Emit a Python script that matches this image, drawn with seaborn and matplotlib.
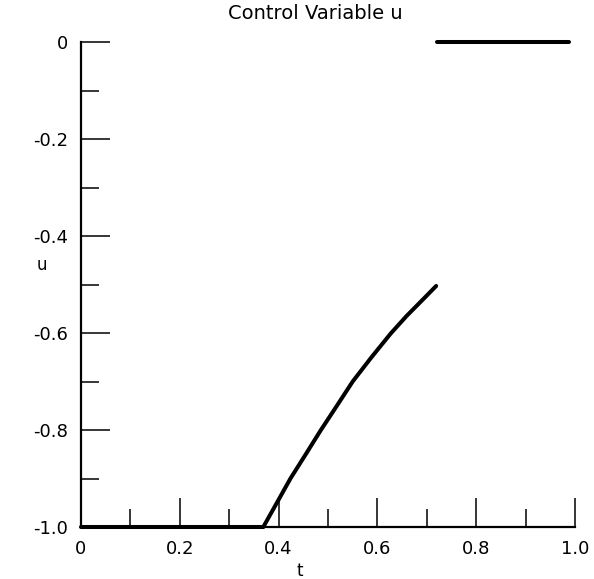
import matplotlib
matplotlib.use("Agg")
import matplotlib.pyplot as plt
import seaborn as sns
import numpy as np
import pandas as pd

# data
t_low = [0.0, 0.369]
u_low = [-1.0, -1.0]
t_arc = [0.369, 0.396, 0.424, 0.455, 0.485, 0.518, 0.550, 0.588, 0.627, 0.659, 0.693, 0.719]
u_arc = [-1.0, -0.951, -0.900, -0.850, -0.801, -0.750, -0.700, -0.650, -0.601, -0.565, -0.530, -0.503]
t_top = [0.721, 0.988]
u_top = [0.0, 0.0]

x_major = [0.0, 0.2, 0.4, 0.6, 0.8, 1.0]
x_major_labels = ["0", "0.2", "0.4", "0.6", "0.8", "1.0"]
x_minor = [0.1, 0.3, 0.5, 0.7, 0.9]
y_major = [0.0, -0.2, -0.4, -0.6, -0.8, -1.0]
y_major_labels = ["0", "-0.2", "-0.4", "-0.6", "-0.8", "-1.0"]
y_minor = [-0.1, -0.3, -0.5, -0.7, -0.9]

sns.set_style("white")
plt.rcParams["font.family"] = ["DejaVu Sans"]
plt.rcParams["text.color"] = "black"
plt.rcParams["axes.labelcolor"] = "black"
plt.rcParams["xtick.color"] = "black"
plt.rcParams["ytick.color"] = "black"

fig = plt.figure(figsize=(5.94, 5.79), dpi=100)
ax = fig.add_axes([81/594, 1 - 527/579, 494/594, 485/579])

for tt, uu in [(t_low, u_low), (t_arc, u_arc), (t_top, u_top)]:
    df = pd.DataFrame({"t": tt, "u": uu})
    sns.lineplot(data=df, x="t", y="u", sort=False, estimator=None, ax=ax,
                 color="black", linewidth=2.9, clip_on=False,
                 solid_joinstyle="round", solid_capstyle="round")

ax.set_xlim(0, 1.0)
ax.set_ylim(-1.0, 0.0)
ax.set_xticks(x_major)
ax.set_xticklabels(x_major_labels)
ax.set_xticks(x_minor, minor=True)
ax.set_yticks(y_major)
ax.set_yticklabels(y_major_labels)
ax.set_yticks(y_minor, minor=True)

ax.tick_params(which="both", bottom=True, left=True, top=False, right=False)
ax.tick_params(which="major", direction="in", length=21, width=1.1, color="black",
               labelsize=13, labelcolor="black", pad=9)
ax.tick_params(which="minor", direction="in", length=13, width=1.1, color="black")

for s in ["top", "right"]:
    ax.spines[s].set_visible(False)
for s in ["left", "bottom"]:
    ax.spines[s].set_color("black")
    ax.spines[s].set_linewidth(1.6)

ax.set_xlabel("t", fontsize=12, color="black")
ax.set_ylabel("u", fontsize=12, rotation=0, color="black", ha="center", va="center")
ax.xaxis.set_label_coords(0.443, -0.072)
ax.yaxis.set_label_coords(-0.079, 0.54)
ax.set_title("Control Variable u", fontsize=14, x=0.474, y=1.03, color="black")

fig.savefig("out.png", dpi=100)
